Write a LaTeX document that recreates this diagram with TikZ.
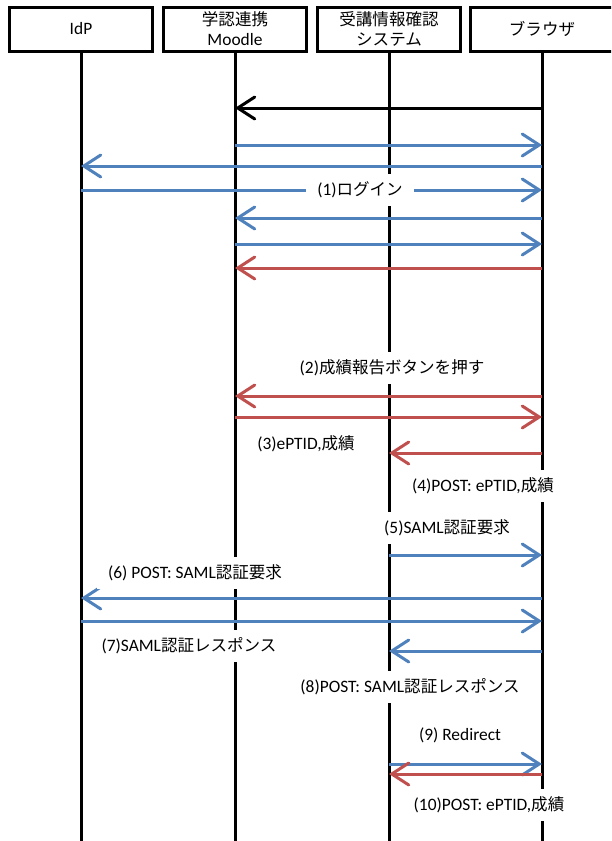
\documentclass[tikz,border=0pt]{standalone}
\usepackage{fontspec}
\setmainfont{Carlito}
\newfontfamily\jp[Scale=0.95]{Noto Sans CJK JP}
\usetikzlibrary{arrows.meta}
\definecolor{cblue}{HTML}{4F81BD}
\definecolor{cred}{HTML}{C0504D}
\begin{document}
\begin{tikzpicture}[x=1pt,y=-1pt,
  hdr/.style={draw,line width=3pt,minimum width=143pt,minimum height=44pt,align=center,
    font=\fontsize{17.4}{20}\selectfont,inner sep=0pt},
  life/.style={line width=3pt},
  msg/.style={line width=3pt,-{Straight Barb[length=17pt,width=22pt,line cap=round]}},
  bmsg/.style={msg,cblue},
  rmsg/.style={msg,cred},
  kmsg/.style={msg,black},
  lbl/.style={fill=white,inner xsep=11pt,inner ysep=8pt,font=\fontsize{17.4}{20}\selectfont}]
\useasboundingbox (0,0) rectangle (611,841);
\clip (0,0) rectangle (611,841);
% headers
\node[hdr] (idp) at (81,29) {IdP};
\node[hdr] (moo) at (235,29) {{\jp 学認連携}\\Moodle};
\node[hdr] (sys) at (389,29) {{\jp 受講情報確認}\\{\jp システム}};
\node[hdr] (bro) at (542,29) {{\jp ブラウザ}};
% lifeline ends
\coordinate (idpE) at (81,850);
\coordinate (mooE) at (235,850);
\coordinate (sysE) at (389,850);
\coordinate (broE) at (542,850);
\draw[life] (idp.south) -- (idpE);
\draw[life] (moo.south) -- (mooE);
\draw[life] (sys.south) -- (sysE);
\draw[life] (bro.south) -- (broE);
% messages
\newcommand\msgline[4]{\draw[#4] (#2 |- 0,#1) -- (#3 |- 0,#1);}
\msgline{108}{bro}{moo}{kmsg}
\msgline{145}{moo}{bro}{bmsg}
\msgline{166}{bro}{idp}{bmsg}
\msgline{190}{idp}{bro}{bmsg}
\msgline{218}{bro}{moo}{bmsg}
\msgline{244}{moo}{bro}{bmsg}
\msgline{268}{bro}{moo}{rmsg}
\msgline{396}{bro}{moo}{rmsg}
\msgline{417}{moo}{bro}{rmsg}
\msgline{453}{bro}{sys}{rmsg}
\msgline{555}{sys}{bro}{bmsg}
\msgline{598}{bro}{idp}{bmsg}
\msgline{621}{idp}{bro}{bmsg}
\msgline{651}{bro}{sys}{bmsg}
\msgline{764}{sys}{bro}{bmsg}
\msgline{774}{bro}{sys}{rmsg}
% labels
\node[lbl] (l1) at (360,190) {(1){\jp ログイン}};
\node[lbl] (l2) at (392,368) {(2){\jp 成績報告ボタンを押す}};
\node[lbl] (l3) at (306,444) {(3)ePTID,{\jp 成績}};
\node[lbl] (l4) at (483,486) {(4)POST: ePTID,{\jp 成績}};
\node[lbl] (l5) at (447,528) {(5)SAML{\jp 認証要求}};
\node[lbl] (l6) at (195,573) {(6) POST: SAML{\jp 認証要求}};
\node[lbl] (l7) at (189,646) {(7)SAML{\jp 認証レスポンス}};
\node[lbl] (l8) at (410,687) {(8)POST: SAML{\jp 認証レスポンス}};
\node[lbl] (l9) at (460,735) {(9) Redirect};
\node[lbl] (l10) at (489,805) {(10)POST: ePTID,{\jp 成績}};
\end{tikzpicture}
\end{document}
